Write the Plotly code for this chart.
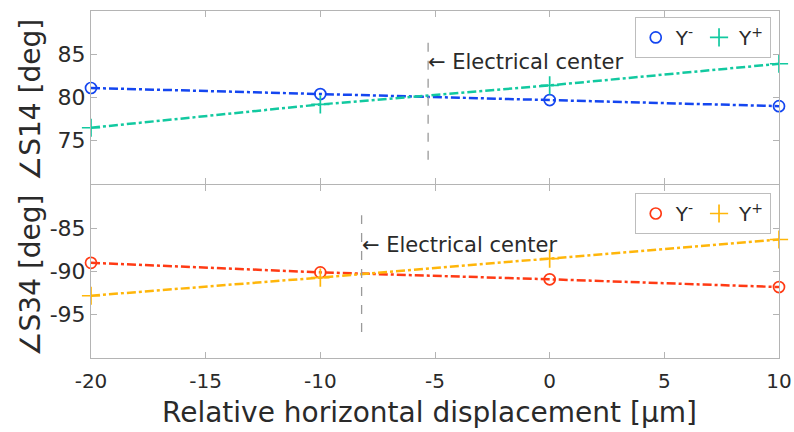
import plotly.graph_objects as go
from plotly.subplots import make_subplots

x_disp = [-20, -10, 0, 10]
s14_ym = [81.1, 80.4, 79.7, 79.0]
s14_yp = [76.5, 79.2, 81.4, 83.9]
s34_ym = [-89.0, -90.1, -90.9, -91.8]
s34_yp = [-92.8, -90.7, -88.5, -86.3]

ec14_x = [-5.3, -5.3]
ec14_y = [72.8, 86.6]
ec34_x = [-8.2, -8.2]
ec34_y = [-97.0, -83.5]

x_ticks = [-20, -15, -10, -5, 0, 5, 10]
y14_ticks = [75, 80, 85]
y34_ticks = [-95, -90, -85]

FONT = "DejaVu Sans"
C_BLUE = "#1446f0"
C_GREEN = "#12c9a0"
C_RED = "#ff3a14"
C_YEL = "#ffb60a"
AX = "#b4b4b4"
TXT = "#2a2a2a"

fig = make_subplots(rows=2, cols=1, shared_xaxes=True, vertical_spacing=0.003)

def add_series(xv, yv, color, symbol, name, row, legend, size):
    fig.add_trace(go.Scatter(
        x=xv, y=yv, mode="lines", showlegend=False,
        line=dict(color=color, width=2.5, dash="dashdot"), hoverinfo="skip"),
        row=row, col=1)
    fig.add_trace(go.Scatter(
        x=xv, y=yv, mode="markers", name=name,
        marker=dict(symbol=symbol, size=size, color=color, line=dict(color=color, width=1.7)),
        cliponaxis=False, legend=legend), row=row, col=1)

add_series(x_disp, s14_ym, C_BLUE, "circle-open", "Y<sup>-</sup>", 1, "legend", 11)
add_series(x_disp, s14_yp, C_GREEN, "cross-thin-open", "Y<sup>+</sup>", 1, "legend", 13)
add_series(x_disp, s34_ym, C_RED, "circle-open", "Y<sup>-</sup>", 2, "legend2", 11)
add_series(x_disp, s34_yp, C_YEL, "cross-thin-open", "Y<sup>+</sup>", 2, "legend2", 13)

for xv, yv, row in [(ec14_x, ec14_y, 1), (ec34_x, ec34_y, 2)]:
    fig.add_trace(go.Scatter(x=xv, y=yv, mode="lines", showlegend=False,
                             line=dict(color="#9a9a9a", width=1.3, dash="dash"),
                             hoverinfo="skip"), row=row, col=1)

fig.add_annotation(x=ec14_x[0], y=84.1, xref="x", yref="y", text="← Electrical center",
                   showarrow=False, xanchor="left", yanchor="middle", xshift=-2,
                   font=dict(family=FONT, size=21, color=TXT))
fig.add_annotation(x=ec34_x[0], y=-86.9, xref="x2", yref="y2", text="← Electrical center",
                   showarrow=False, xanchor="left", yanchor="middle", xshift=-2,
                   font=dict(family=FONT, size=21, color=TXT))

# axis titles
fig.add_annotation(x=-0.088, y=0.745, xref="paper", yref="paper", text="∠S14 [deg]",
                   textangle=-90, showarrow=False, xanchor="center", yanchor="middle",
                   font=dict(family=FONT, size=28, color=TXT))
fig.add_annotation(x=-0.088, y=0.239, xref="paper", yref="paper", text="∠S34 [deg]",
                   textangle=-90, showarrow=False, xanchor="center", yanchor="middle",
                   font=dict(family=FONT, size=28, color=TXT))
fig.add_annotation(x=0.5 - 0.008, y=-0.158, xref="paper", yref="paper",
                   text="Relative horizontal displacement [μm]",
                   showarrow=False, xanchor="center", yanchor="middle",
                   font=dict(family=FONT, size=28, color=TXT))

xcommon = dict(range=[-20, 10], tickvals=x_ticks, ticktext=[str(v) for v in x_ticks],
               showline=True, linecolor=AX, linewidth=1,
               mirror="ticks", ticks="inside", ticklen=6, tickcolor=AX, showgrid=False,
               zeroline=False, automargin=False, ticklabelstandoff=5,
               tickfont=dict(family=FONT, size=20, color=TXT))
fig.update_xaxes(**xcommon, row=1, col=1)
fig.update_xaxes(**xcommon, row=2, col=1)

ycommon = dict(showline=True, linecolor=AX, linewidth=1, mirror="ticks", ticks="inside",
               ticklen=6, tickcolor=AX, showgrid=False, zeroline=False, automargin=False,
               tickfont=dict(family=FONT, size=22, color=TXT))
fig.update_yaxes(**ycommon, range=[70, 90], tickvals=y14_ticks,
                 ticktext=[str(v) for v in y14_ticks], row=1, col=1)
fig.update_yaxes(**ycommon, range=[-100, -80], tickvals=y34_ticks,
                 ticktext=[str(v) for v in y34_ticks], row=2, col=1)

leg = dict(orientation="h", xanchor="right", yanchor="top", bgcolor="white",
           bordercolor="#bdbdbd", borderwidth=1, font=dict(family=FONT, size=20, color=TXT),
           itemwidth=30, tracegroupgap=0)
fig.update_layout(
    width=794, height=432, margin=dict(l=91, r=15, t=11, b=74),
    paper_bgcolor="white", plot_bgcolor="white",
    legend=dict(**leg, x=0.988, y=0.983),
    legend2=dict(**leg, x=0.988, y=0.4755),
    font=dict(family=FONT),
)

fig.write_html("out.html")
